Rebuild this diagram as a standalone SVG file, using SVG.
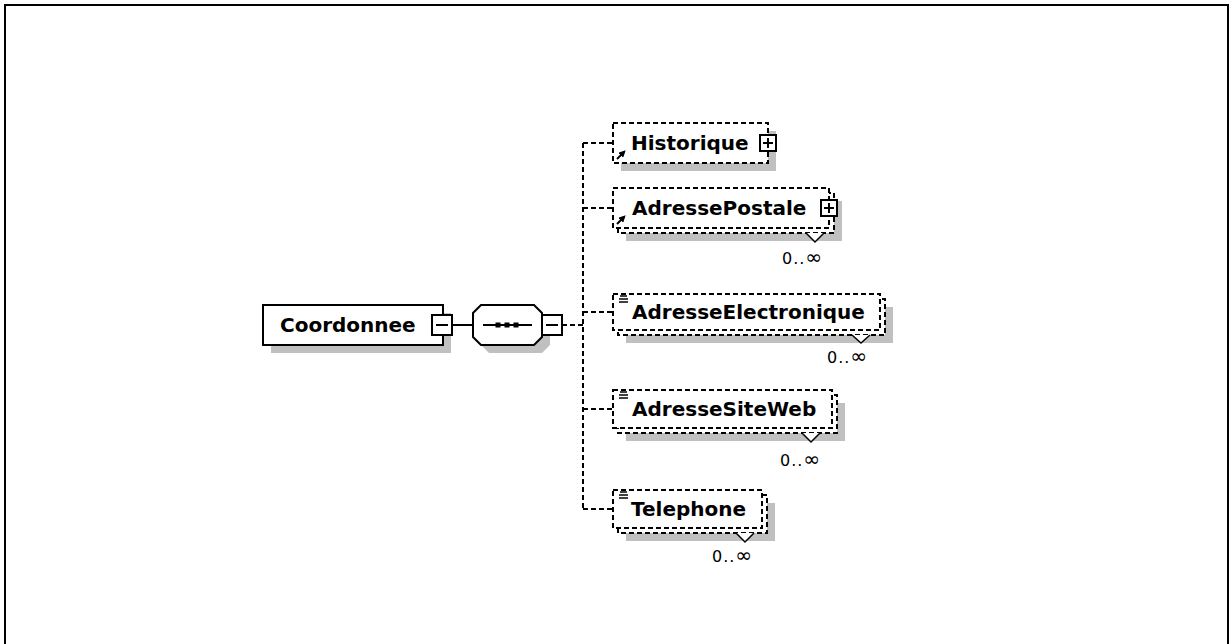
<svg xmlns="http://www.w3.org/2000/svg" width="1232" height="644" viewBox="0 0 1232 644">
<defs>
<style>
.frame{fill:none;stroke:#000;stroke-width:2}
.shadow{fill:#c0c0c0;stroke:none}
.box{fill:#fff;stroke:#000;stroke-width:2}
.dbox{fill:#fff;stroke:#000;stroke-width:2;stroke-dasharray:5,3}
.conn{fill:none;stroke:#000;stroke-width:2}
.dconn{fill:none;stroke:#000;stroke-width:2;stroke-dasharray:5,3}
.lbl{font-family:"DejaVu Sans",Verdana,sans-serif;font-weight:bold;font-size:20px;fill:#000}
.card{font-family:"DejaVu Sans",Verdana,sans-serif;font-size:16px;letter-spacing:1px;fill:#000}
.inf{font-size:20px}
.ico{fill:none;stroke:#000;stroke-width:1.5}
.arr{fill:none;stroke:#000;stroke-width:2}
.notch{fill:#fff;stroke:#000;stroke-width:1.5}
</style>
<marker id="ah" viewBox="0 0 6 6" refX="4" refY="3" markerWidth="3.5" markerHeight="3.5" orient="auto">
<path d="M0,0 L6,3 L0,6 z" fill="#000"/>
</marker>
</defs>
<rect width="1232" height="644" fill="#fff"/>
<path class="frame" d="M5,650 V5 H1228 V650"/>

<g id="connectors">
<line class="conn" x1="452" y1="325" x2="473" y2="325"/>
<line class="dconn" x1="562" y1="325" x2="583" y2="325"/>
<line class="dconn" x1="583" y1="143" x2="583" y2="509"/>
<line class="dconn" x1="583" y1="143" x2="613" y2="143"/>
<line class="dconn" x1="583" y1="208" x2="613" y2="208"/>
<line class="dconn" x1="583" y1="312" x2="613" y2="312"/>
<line class="dconn" x1="583" y1="409" x2="613" y2="409"/>
<line class="dconn" x1="583" y1="509" x2="613" y2="509"/>
</g>

<g id="Coordonnee">
<rect class="shadow" x="271" y="313" width="180" height="40"/>
<rect class="box" x="263" y="305" width="180" height="40"/>
<text class="lbl" x="280" y="332">Coordonnee</text>
<rect class="box" x="432" y="315" width="20" height="20"/>
<line class="conn" x1="436" y1="325" x2="448" y2="325"/>
</g>

<g id="sequence">
<polygon class="shadow" points="489,313 542,313 550,321 550,345 542,353 489,353 481,345 481,321"/>
<polygon class="box" points="481,305 534,305 542,313 542,337 534,345 481,345 473,337 473,313"/>
<line class="conn" x1="483" y1="325" x2="532" y2="325"/>
<rect x="495.5" y="322.5" width="5" height="5" fill="#000"/>
<rect x="504.5" y="322.5" width="5" height="5" fill="#000"/>
<rect x="513.5" y="322.5" width="5" height="5" fill="#000"/>
<rect class="box" x="542" y="315" width="20" height="20"/>
<line class="conn" x1="546" y1="325" x2="558" y2="325"/>
</g>

<g id="Historique">
<rect class="shadow" x="621" y="131" width="155" height="40"/>
<rect class="dbox" x="613" y="123" width="155" height="40"/>
<text class="lbl" x="631" y="150">Historique</text>
<line class="arr" x1="617" y1="159" x2="624" y2="152" marker-end="url(#ah)"/>
<rect class="box" x="760" y="135" width="16" height="16"/>
<line class="conn" x1="763" y1="143" x2="773" y2="143"/>
<line class="conn" x1="768" y1="138" x2="768" y2="148"/>
</g>

<g id="AdressePostale">
<rect class="shadow" x="626" y="201" width="216" height="40"/>
<rect class="dbox" x="618" y="193" width="216" height="40"/>
<rect class="dbox" x="613" y="188" width="216" height="40"/>
<text class="lbl" x="632" y="215">AdressePostale</text>
<line class="arr" x1="617" y1="224" x2="624" y2="217" marker-end="url(#ah)"/>
<rect class="box" x="821" y="200" width="16" height="16"/>
<line class="conn" x1="824" y1="208" x2="834" y2="208"/>
<line class="conn" x1="829" y1="203" x2="829" y2="213"/>
<polyline class="notch" points="806,233 815,242 824,233"/>
<text class="card" x="782" y="264">0..<tspan class="inf">∞</tspan></text>
</g>

<g id="AdresseElectronique">
<rect class="shadow" x="626" y="307" width="267" height="36"/>
<rect class="dbox" x="618" y="299" width="267" height="36"/>
<rect class="dbox" x="613" y="294" width="267" height="36"/>
<text class="lbl" x="632" y="319">AdresseElectronique</text>
<line class="ico" x1="620" y1="296" x2="627" y2="296"/>
<line class="ico" x1="619" y1="299" x2="628" y2="299"/>
<line class="ico" x1="619" y1="302" x2="628" y2="302"/>
<polyline class="notch" points="852,335 861,343 870,335"/>
<text class="card" x="827" y="363">0..<tspan class="inf">∞</tspan></text>
</g>

<g id="AdresseSiteWeb">
<rect class="shadow" x="626" y="403" width="219" height="38"/>
<rect class="dbox" x="618" y="395" width="219" height="38"/>
<rect class="dbox" x="613" y="390" width="219" height="38"/>
<text class="lbl" x="632" y="416">AdresseSiteWeb</text>
<line class="ico" x1="620" y1="392" x2="627" y2="392"/>
<line class="ico" x1="619" y1="395" x2="628" y2="395"/>
<line class="ico" x1="619" y1="398" x2="628" y2="398"/>
<polyline class="notch" points="802,433 811,442 820,433"/>
<text class="card" x="780" y="466">0..<tspan class="inf">∞</tspan></text>
</g>

<g id="Telephone">
<rect class="shadow" x="626" y="503" width="149" height="38"/>
<rect class="dbox" x="618" y="495" width="149" height="38"/>
<rect class="dbox" x="613" y="490" width="149" height="38"/>
<text class="lbl" x="631" y="516">Telephone</text>
<line class="ico" x1="620" y1="492" x2="627" y2="492"/>
<line class="ico" x1="619" y1="495" x2="628" y2="495"/>
<line class="ico" x1="619" y1="498" x2="628" y2="498"/>
<polyline class="notch" points="736,533 745,542 754,533"/>
<text class="card" x="712" y="562">0..<tspan class="inf">∞</tspan></text>
</g>
</svg>
